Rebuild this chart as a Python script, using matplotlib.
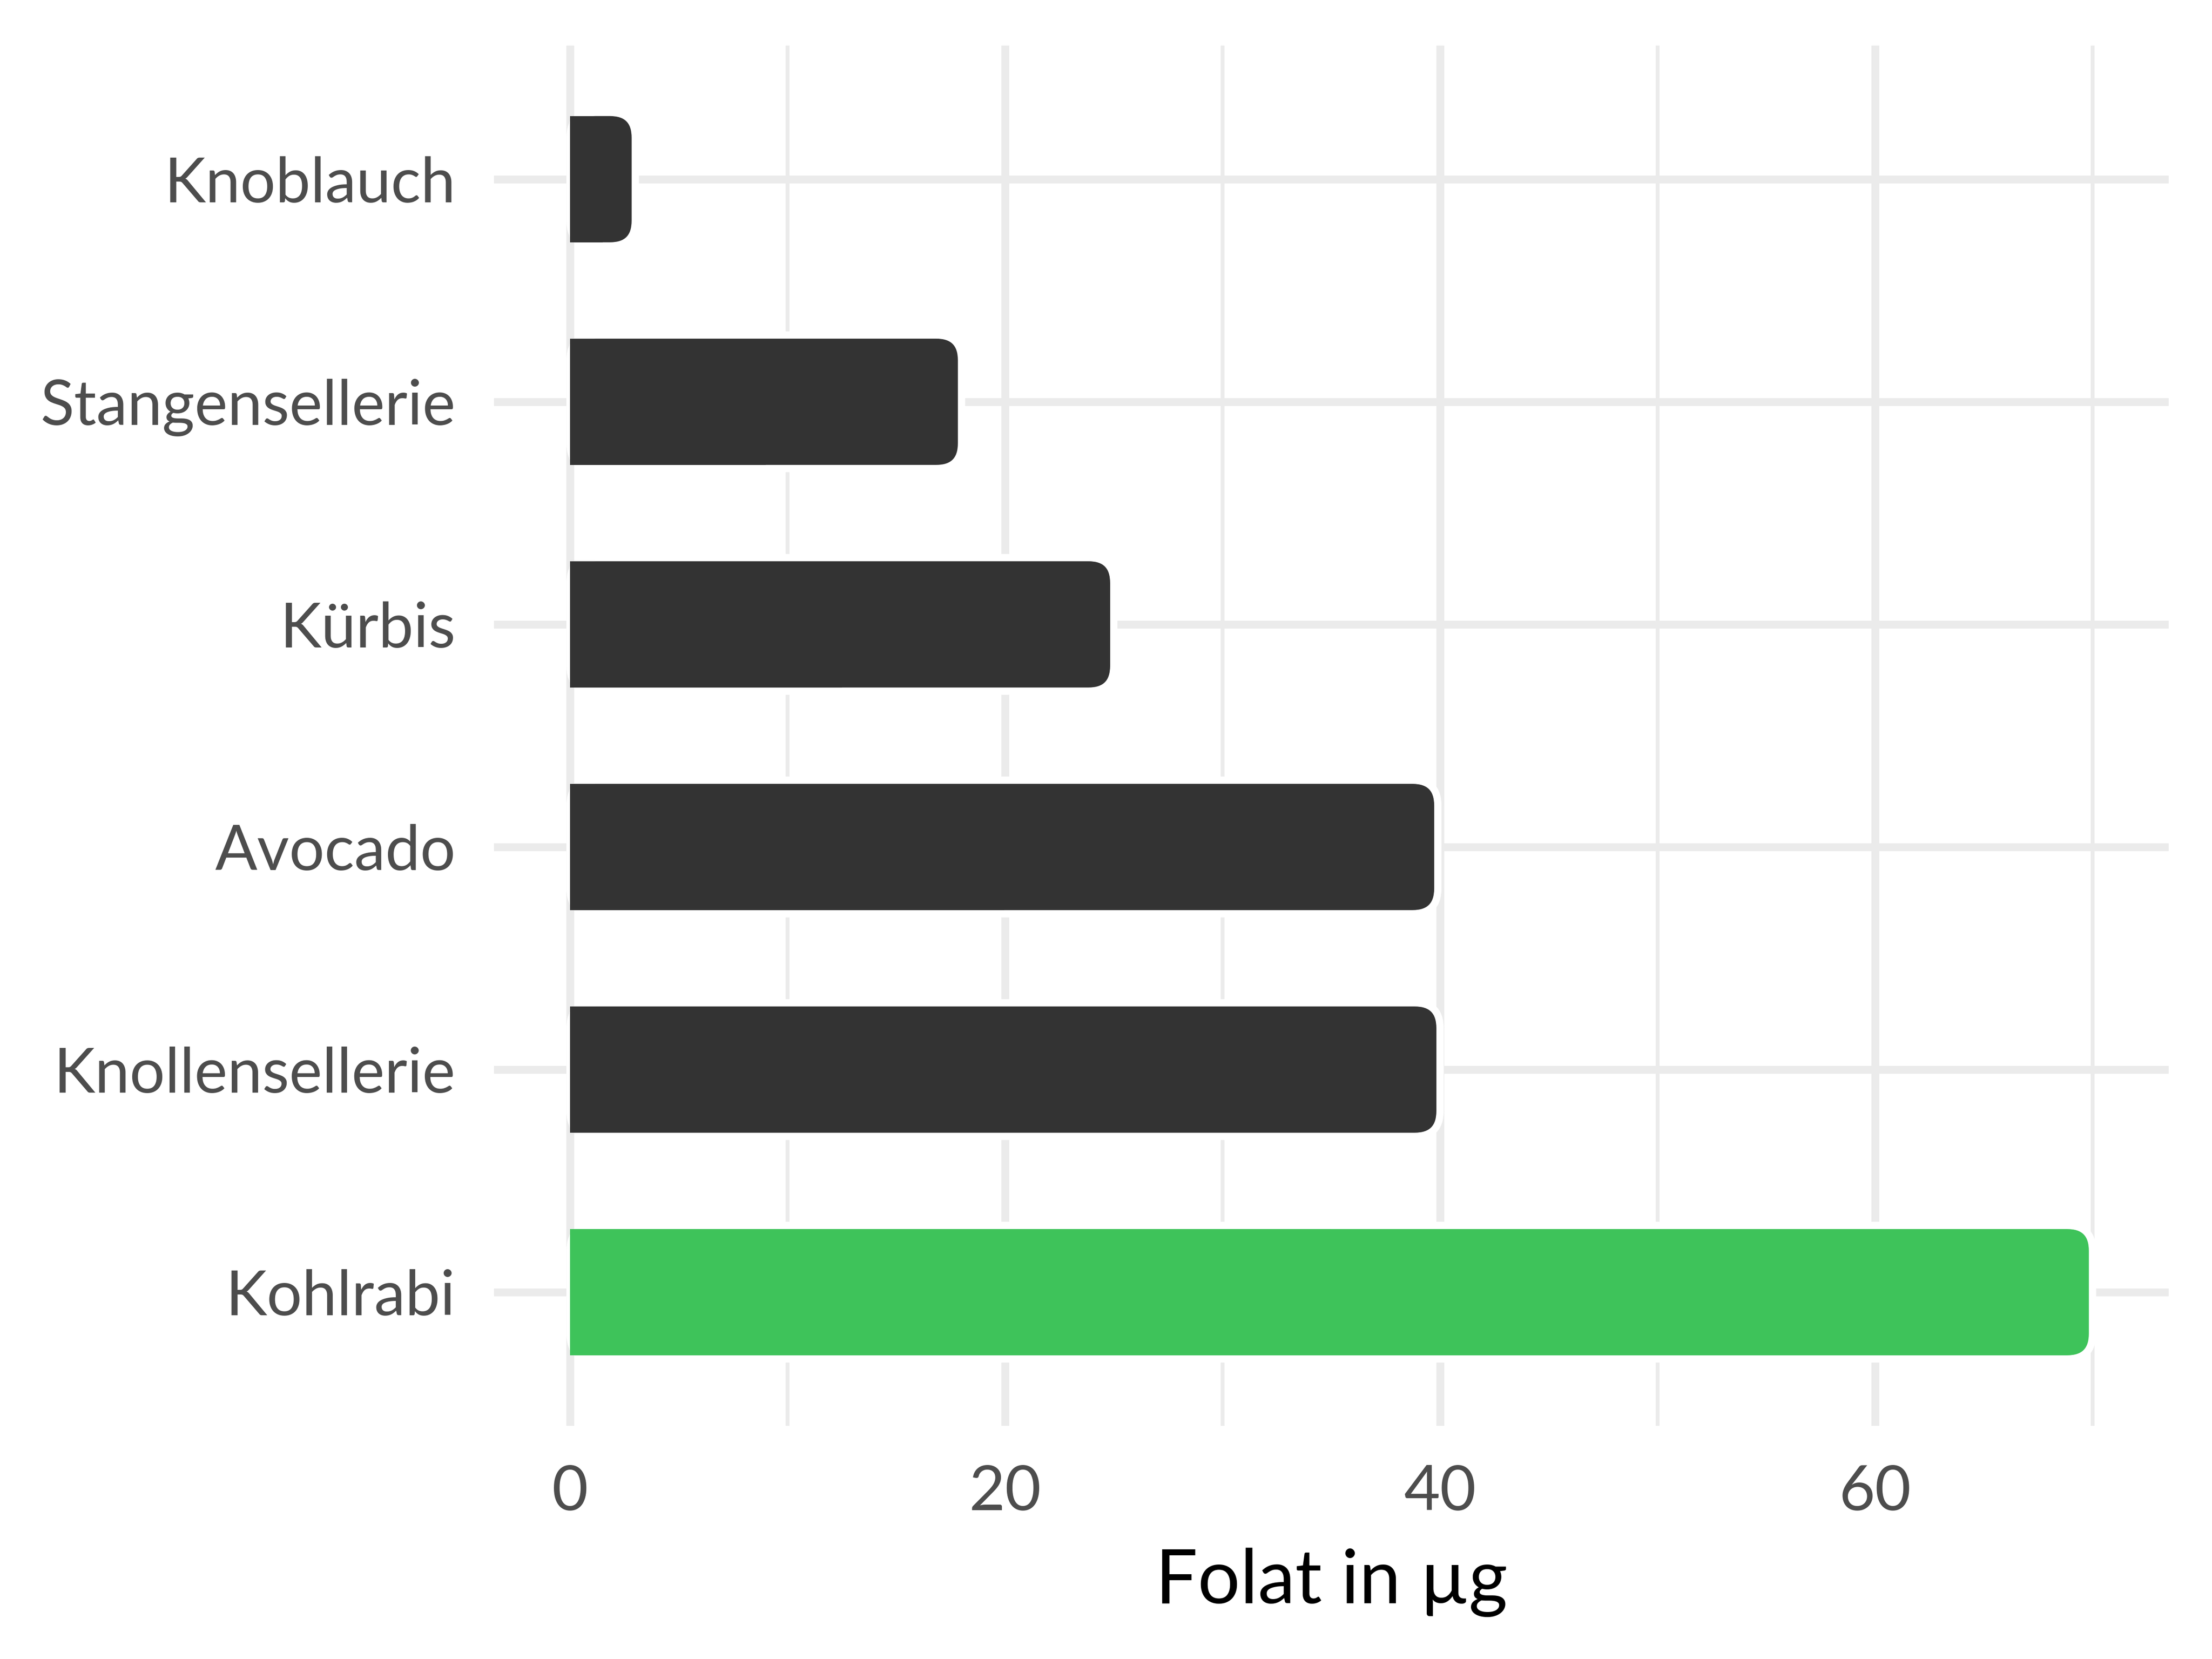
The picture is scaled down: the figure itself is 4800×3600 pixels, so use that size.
import matplotlib.pyplot as plt
from matplotlib.patches import FancyBboxPatch, Rectangle

# data, top to bottom
foods = ['Knoblauch', 'Stangensellerie', 'Kürbis', 'Avocado', 'Knollensellerie', 'Kohlrabi']
folate = [3, 18, 25, 39.9, 40, 70]
highlight = 'Kohlrabi'

x_ticks = [0, 20, 40, 60]
x_minor = [10, 30, 50, 70]

DARK = '#333333'
GREEN = '#3EC35A'
GRID = '#EBEBEB'
TEXT = '#4D4D4D'

plt.rcParams['font.family'] = ['Lato', 'DejaVu Sans']

fig = plt.figure(figsize=(16, 12), dpi=300)
ax = fig.add_axes([0.2233, 0.1406, 0.7571, 0.8319])

xlim = (-3.5, 73.5)
ylim = (-0.6, 5.6)
ax.set_xlim(xlim)
ax.set_ylim(ylim)

# pixels per data unit, used to keep the corners round
px_x = 0.7571 * 4800 / (xlim[1] - xlim[0])
px_y = 0.8319 * 3600 / (ylim[1] - ylim[0])
aspect = px_x / px_y

bar_h = 0.6
stroke = 3.8
half_stroke_y = (stroke / 72 * 300 / 2) / px_y
radius = 55 / px_x

n = len(foods)
y_pos = [n - 1 - i for i in range(n)]

for name, val, y in zip(foods, folate, y_pos):
    color = GREEN if name == highlight else DARK
    box = FancyBboxPatch((0, y - bar_h / 2), val, bar_h,
                         boxstyle=f'round,pad=0,rounding_size={radius}',
                         mutation_aspect=aspect,
                         facecolor=color, edgecolor='white',
                         linewidth=stroke, zorder=2)
    ax.add_patch(box)
    # square off the left end
    inner_h = bar_h - 2 * half_stroke_y
    ax.add_patch(Rectangle((0, y - inner_h / 2), val / 2, inner_h,
                           facecolor=color, edgecolor='none', zorder=3))

ax.set_yticks(y_pos)
ax.set_yticklabels(foods)
ax.set_xticks(x_ticks)
ax.set_xticks(x_minor, minor=True)

ax.grid(True, which='major', axis='both', color=GRID, linewidth=4.1)
ax.grid(True, which='minor', axis='x', color=GRID, linewidth=2.0)
ax.set_axisbelow(True)

for side in ['top', 'right', 'bottom', 'left']:
    ax.spines[side].set_visible(False)

ax.tick_params(axis='both', which='both', length=0)
ax.tick_params(axis='y', pad=20, labelsize=32.5, labelcolor=TEXT)
ax.tick_params(axis='x', pad=20, labelsize=32.5, labelcolor=TEXT)

ax.set_xlabel('Folat in µg', fontsize=39, color='black', labelpad=14)

fig.savefig('out.png', dpi=300, facecolor='white')
